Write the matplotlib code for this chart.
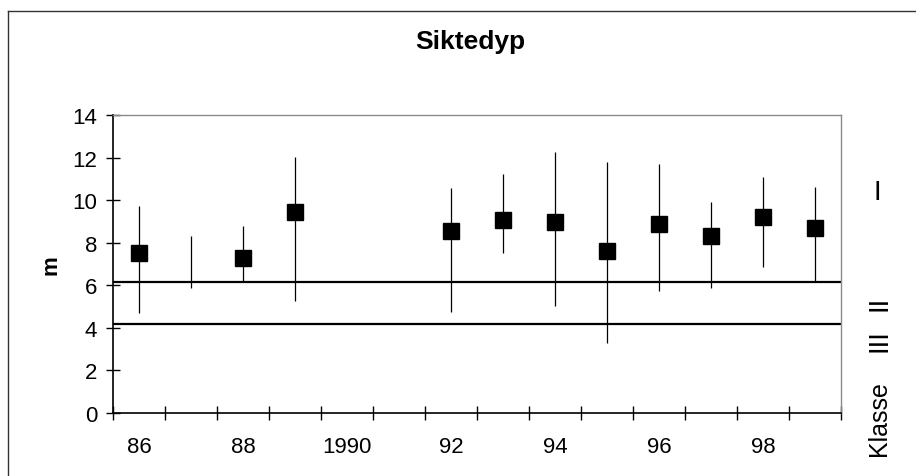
import numpy as np
import matplotlib
matplotlib.use("Agg")
import matplotlib.pyplot as plt
from matplotlib.lines import Line2D

plt.rcParams['font.family'] = ['Liberation Sans', 'DejaVu Sans']

# siktedyp per year: mean, min, max (m)
years = [1986, 1987, 1988, 1989, 1990, 1991, 1992, 1993, 1994, 1995, 1996, 1997, 1998, 1999]
mean_vals = [7.5, np.nan, 7.3, 9.43, np.nan, np.nan, 8.53, 9.06, 8.95, 7.6, 8.88, 8.3, 9.19, 8.69]
min_vals = [4.7, 5.86, 6.14, 5.28, np.nan, np.nan, 4.73, 7.51, 5.04, 3.27, 5.75, 5.86, 6.87, 6.17]
max_vals = [9.71, 8.33, 8.8, 12.01, np.nan, np.nan, 10.55, 11.24, 12.27, 11.8, 11.7, 9.9, 11.1, 10.6]
tick_labels = ["86", "88", "1990", "92", "94", "96", "98"]

# class limits
limit_I_II = 6.15
limit_II_III = 4.2

fig = plt.figure(figsize=(9.16, 4.77), dpi=100)
ax = fig.add_axes([0.1234, 0.1321, 0.7948, 0.6247])

x = np.arange(len(years))
ax.vlines(x, min_vals, max_vals, color="black", lw=0.9)
ax.plot(x, mean_vals, "s", color="black", markersize=11.5, linestyle="none")

ax.axhline(limit_I_II, color="black", lw=1.6)
ax.axhline(limit_II_III, color="black", lw=1.6)

ax.set_xlim(-0.5, len(years) - 0.5)
ax.set_ylim(0, 14)
ax.set_yticks(range(0, 15, 2))

ax.set_xticks(np.arange(-0.5, len(years), 1.0))
ax.set_xticklabels([])
ax.set_xticks(x[::2], minor=True)
ax.set_xticklabels(tick_labels, minor=True)
ax.tick_params(axis="x", which="major", direction="inout", length=10, width=1)
ax.tick_params(axis="x", which="minor", length=0, pad=16.5, labelsize=16)
ax.tick_params(axis="y", direction="inout", length=10, width=1, pad=6.5, labelsize=16)

for s in ["left", "bottom"]:
    ax.spines[s].set_color("black")
    ax.spines[s].set_linewidth(1.2)
for s in ["top", "right"]:
    ax.spines[s].set_color("#8a8a8a")
    ax.spines[s].set_linewidth(1.0)

ax.set_ylabel("m", fontsize=16, fontweight="bold", labelpad=8)

fig.text(0.513, 1 - 42 / 477, "Siktedyp", ha="center", va="center",
         fontsize=19, fontweight="bold")

fig.text(0.958, 0.595, "I", ha="center", va="center", fontsize=20)
fig.text(0.96, 0.365, "II", ha="center", va="center", fontsize=20, rotation=90)
fig.text(0.96, 0.285, "III", ha="center", va="center", fontsize=20, rotation=90)
fig.text(0.96, 0.122, "Klasse", ha="center", va="center", fontsize=18, rotation=90)

# outer frame
fig.add_artist(Line2D([0.0087, 0.0087], [0.0, 0.975], color="#333333", lw=1.0))
fig.add_artist(Line2D([0.0087, 1.0], [0.975, 0.975], color="#333333", lw=1.0))

fig.savefig("out.png", dpi=100)
